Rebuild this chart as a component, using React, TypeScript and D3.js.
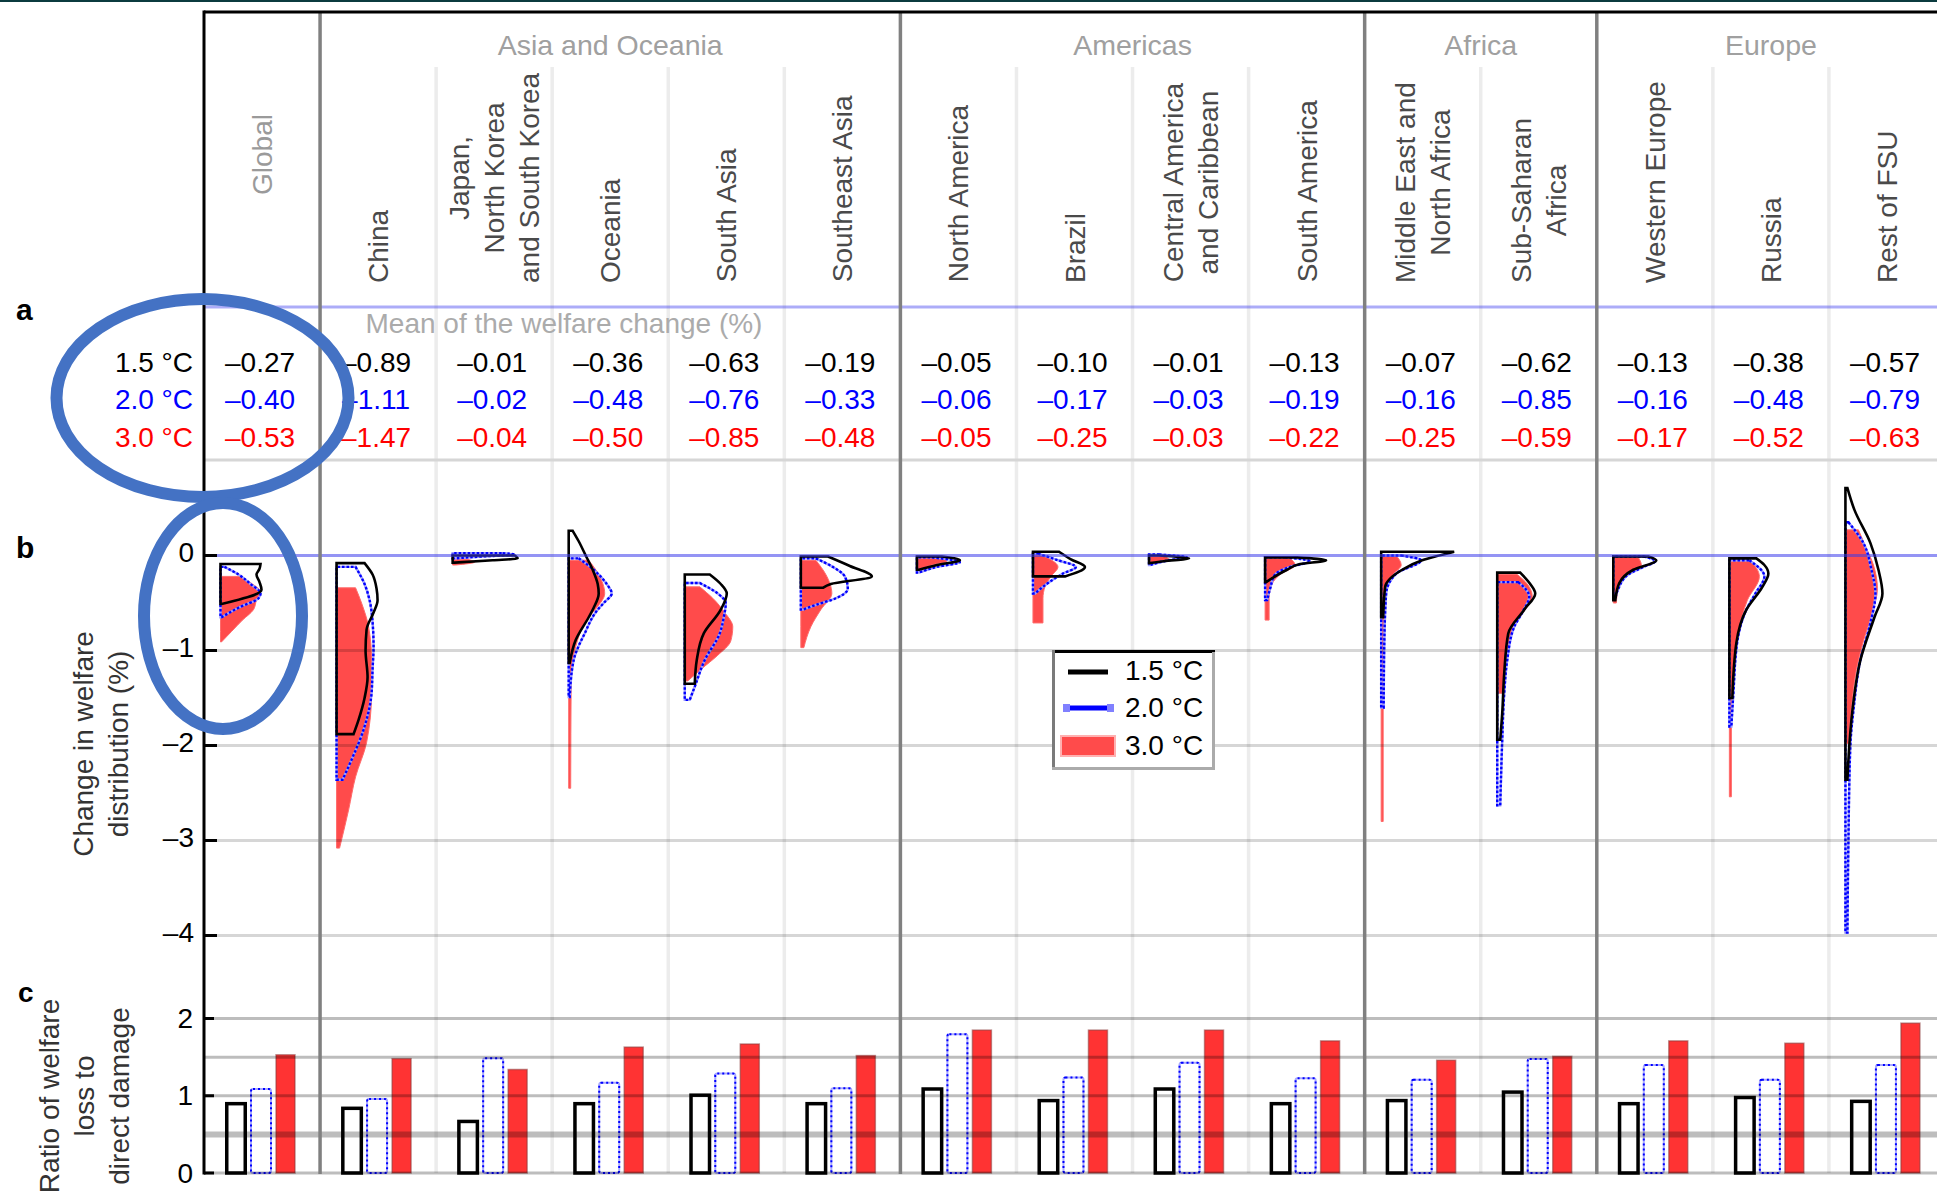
import React from "react";
import * as d3 from "d3";

const W = 1937;
const H = 1198;
const FONT = "'Liberation Sans', Arial, Helvetica, sans-serif";

// ---------- categories ----------
const regionLabels: string[][] = [
  ["Global"],
  ["China"],
  ["Japan,", "North Korea", "and South Korea"],
  ["Oceania"],
  ["South Asia"],
  ["Southeast Asia"],
  ["North America"],
  ["Brazil"],
  ["Central America", "and Caribbean"],
  ["South America"],
  ["Middle East and", "North Africa"],
  ["Sub-Saharan", "Africa"],
  ["Western Europe"],
  ["Russia"],
  ["Rest of FSU"],
];
const groupNames = ["Asia and Oceania", "Americas", "Africa", "Europe"];
const groupFirst = [1, 6, 10, 12];
const groupLast = [5, 9, 11, 14];
const scenarioLabels = ["1.5 °C", "2.0 °C", "3.0 °C"];
const scenarioColors = ["#000000", "#0000ff", "#ff0000"];

// ---------- panel a: mean welfare change (%) ----------
const meanWelfare15 = [-0.27, -0.89, -0.01, -0.36, -0.63, -0.19, -0.05, -0.1, -0.01, -0.13, -0.07, -0.62, -0.13, -0.38, -0.57];
const meanWelfare20 = [-0.4, -1.11, -0.02, -0.48, -0.76, -0.33, -0.06, -0.17, -0.03, -0.19, -0.16, -0.85, -0.16, -0.48, -0.79];
const meanWelfare30 = [-0.53, -1.47, -0.04, -0.5, -0.85, -0.48, -0.05, -0.25, -0.03, -0.22, -0.25, -0.59, -0.17, -0.52, -0.63];

// ---------- panel b: distributions [change %, density] ----------
type Pt = [number, number];
const dist15: Pt[][] = [
  [[-0.09, 4.0], [-0.14, 3.9], [-0.2, 3.6], [-0.28, 3.9], [-0.36, 4.1], [-0.51, 0.1]],
  [[-0.08, 2.8], [-0.2, 3.6], [-0.35, 4.0], [-0.47, 4.1], [-0.6, 3.7], [-0.78, 3.0], [-1.0, 2.9], [-1.28, 3.1], [-1.5, 2.8], [-1.73, 2.2], [-1.88, 1.7]],
  [[-0.0, 6.2], [-0.03, 6.5], [-0.05, 4.0], [-0.075, 0.2]],
  [[0.26, 0.4], [0.15, 1.0], [0.0, 1.7], [-0.15, 2.4], [-0.3, 2.9], [-0.4, 3.0], [-0.55, 2.5], [-0.65, 2.0], [-0.89, 0.7], [-1.13, 0.1]],
  [[-0.2, 2.5], [-0.3, 3.6], [-0.4, 4.2], [-0.57, 3.6], [-0.82, 1.9], [-1.1, 1.2], [-1.35, 1.0]],
  [[-0.01, 2.7], [-0.11, 4.9], [-0.22, 7.1], [-0.3, 3.0], [-0.34, 2.2]],
  [[-0.01, 2.5], [-0.05, 4.3], [-0.1, 2.0], [-0.15, 0.2]],
  [[0.04, 2.6], [-0.04, 3.8], [-0.12, 5.2], [-0.22, 3.2]],
  [[0.0, 1.0], [-0.03, 4.0], [-0.06, 1.5], [-0.08, 0.1]],
  [[-0.02, 3.2], [-0.05, 6.1], [-0.09, 3.5], [-0.15, 2.2], [-0.28, 0.1]],
  [[0.04, 7.3], [-0.05, 4.1], [-0.15, 2.1], [-0.33, 0.4], [-0.65, 0.2]],
  [[-0.18, 2.3], [-0.3, 3.3], [-0.4, 3.8], [-0.57, 2.7], [-0.82, 1.1], [-1.24, 0.7], [-1.66, 0.5], [-1.94, 0.3]],
  [[-0.01, 3.5], [-0.05, 4.3], [-0.15, 2.0], [-0.29, 0.6], [-0.47, 0.2]],
  [[-0.03, 2.7], [-0.1, 3.5], [-0.19, 3.9], [-0.33, 3.3], [-0.57, 1.7], [-0.92, 0.7], [-1.5, 0.3]],
  [[0.71, 0.2], [0.48, 0.9], [0.13, 2.5], [-0.15, 3.3], [-0.4, 3.7], [-0.65, 2.9], [-1.1, 1.5], [-1.63, 0.7], [-1.98, 0.4], [-2.36, 0.2]],
];
const dist20: Pt[][] = [
  [[-0.12, 0.4], [-0.2, 1.8], [-0.3, 3.0], [-0.4, 4.0], [-0.45, 3.8], [-0.55, 1.8], [-0.65, 0.1]],
  [[-0.12, 1.9], [-0.3, 2.8], [-0.47, 3.3], [-0.7, 3.6], [-0.96, 3.7], [-1.2, 3.6], [-1.45, 3.5], [-1.8, 2.8], [-2.15, 1.5], [-2.36, 0.6]],
  [[0.025, 5.0], [0.01, 6.2], [-0.01, 3.0], [-0.03, 0.2]],
  [[-0.03, 1.0], [-0.15, 2.5], [-0.3, 3.8], [-0.4, 4.3], [-0.5, 3.5], [-0.57, 2.9], [-0.82, 1.6], [-1.1, 0.5], [-1.49, 0.1]],
  [[-0.29, 1.5], [-0.4, 3.3], [-0.5, 4.1], [-0.65, 3.9], [-0.82, 3.5], [-1.1, 2.0], [-1.38, 1.0], [-1.52, 0.5]],
  [[-0.03, 1.5], [-0.12, 3.2], [-0.22, 4.4], [-0.35, 4.7], [-0.45, 3.5], [-0.52, 1.5], [-0.57, 0.2]],
  [[-0.02, 1.5], [-0.07, 4.3], [-0.12, 2.0], [-0.18, 0.2]],
  [[0.02, 0.5], [-0.05, 2.5], [-0.12, 4.3], [-0.19, 3.0], [-0.29, 1.5], [-0.4, 0.2]],
  [[0.01, 1.0], [-0.02, 3.8], [-0.05, 2.0], [-0.1, 0.1]],
  [[-0.02, 2.0], [-0.06, 4.5], [-0.12, 2.5], [-0.2, 1.0], [-0.35, 0.5], [-0.47, 0.2]],
  [[0.0, 2.0], [-0.05, 4.0], [-0.19, 1.5], [-0.4, 0.5], [-1.0, 0.3], [-1.6, 0.25]],
  [[-0.28, 2.1], [-0.43, 3.2], [-0.6, 2.5], [-0.75, 1.7], [-1.1, 1.0], [-1.45, 0.7], [-1.94, 0.5], [-2.63, 0.3]],
  [[-0.01, 3.0], [-0.06, 4.2], [-0.12, 3.0], [-0.2, 1.5], [-0.35, 0.5], [-0.45, 0.2]],
  [[-0.05, 2.0], [-0.22, 3.5], [-0.4, 2.6], [-0.57, 1.7], [-0.9, 0.8], [-1.45, 0.4], [-1.8, 0.2]],
  [[0.35, 0.3], [0.13, 1.8], [-0.15, 2.6], [-0.4, 3.0], [-0.75, 2.4], [-1.1, 1.5], [-1.63, 0.8], [-1.98, 0.5], [-3.0, 0.3], [-3.97, 0.2]],
];
const dist30: Pt[][] = [
  [[-0.22, 2.0], [-0.3, 3.2], [-0.38, 4.0], [-0.47, 3.6], [-0.57, 3.3], [-0.68, 2.2], [-0.8, 1.1], [-0.91, 0.1]],
  [[-0.34, 1.9], [-0.5, 2.5], [-0.75, 3.2], [-1.1, 3.5], [-1.45, 3.5], [-1.97, 3.0], [-2.33, 1.9], [-2.68, 1.2], [-3.08, 0.3]],
  [[-0.04, 1.5], [-0.07, 2.2], [-0.1, 0.3]],
  [[-0.05, 2.0], [-0.2, 3.0], [-0.4, 3.6], [-0.55, 2.8], [-0.65, 2.0], [-0.96, 0.7], [-1.3, 0.25], [-2.45, 0.2]],
  [[-0.33, 1.5], [-0.45, 2.8], [-0.6, 4.0], [-0.75, 4.8], [-0.9, 4.6], [-1.05, 3.3], [-1.2, 1.6], [-1.32, 0.3]],
  [[-0.05, 1.5], [-0.2, 2.5], [-0.4, 3.1], [-0.57, 2.0], [-0.75, 1.0], [-0.97, 0.3]],
  [[-0.02, 2.0], [-0.06, 3.0], [-0.1, 1.5], [-0.16, 0.2]],
  [[0.0, 1.0], [-0.12, 2.5], [-0.22, 1.8], [-0.33, 1.2], [-0.45, 1.0], [-0.71, 1.0]],
  [[-0.01, 1.5], [-0.04, 2.0], [-0.07, 0.5], [-0.1, 0.1]],
  [[-0.03, 2.5], [-0.1, 3.0], [-0.2, 1.5], [-0.3, 0.7], [-0.45, 0.4], [-0.68, 0.4]],
  [[0.0, 1.5], [-0.1, 2.0], [-0.2, 1.2], [-0.35, 0.5], [-1.0, 0.2], [-2.8, 0.2]],
  [[-0.2, 2.0], [-0.3, 3.0], [-0.43, 3.5], [-0.6, 2.6], [-0.75, 1.7], [-1.1, 1.0], [-1.45, 0.5]],
  [[-0.02, 2.5], [-0.1, 2.8], [-0.2, 1.5], [-0.35, 0.5], [-0.5, 0.3]],
  [[-0.06, 2.2], [-0.22, 3.0], [-0.47, 1.8], [-0.82, 0.9], [-1.28, 0.4], [-1.8, 0.2], [-2.54, 0.2]],
  [[0.27, 1.3], [0.1, 2.0], [-0.1, 2.8], [-0.35, 3.2], [-0.6, 2.7], [-0.9, 1.8], [-1.2, 1.1], [-1.6, 0.6], [-1.98, 0.3]],
];
const distTicks = [0, -1, -2, -3, -4];

// ---------- panel c: ratio of welfare loss to direct damage ----------
const ratio15 = [0.92, 0.86, 0.69, 0.92, 1.03, 0.92, 1.11, 0.96, 1.11, 0.92, 0.96, 1.07, 0.92, 1.0, 0.95];
const ratio20 = [1.1, 0.97, 1.5, 1.18, 1.3, 1.11, 1.81, 1.25, 1.44, 1.24, 1.22, 1.49, 1.41, 1.22, 1.41];
const ratio30 = [1.53, 1.48, 1.34, 1.63, 1.67, 1.52, 1.85, 1.85, 1.85, 1.71, 1.46, 1.51, 1.71, 1.68, 1.94];
const ratioTicks = [0, 1, 2];
const ratioGrid = [0, 0.5, 1, 1.5, 2];

// ---------- helpers ----------
let _ctx: CanvasRenderingContext2D | null = null;
function textWidth(s: string, size: number) {
  if (!_ctx) _ctx = document.createElement("canvas").getContext("2d");
  if (!_ctx) return s.length * size * 0.5;
  _ctx.font = `${size}px 'Liberation Sans', Arial, sans-serif`;
  return _ctx.measureText(s).width;
}
const fmt = (v: number) => v.toFixed(2).replace("-", "\u2013");
const tickFmt = (v: number) => (v < 0 ? "\u2013" + Math.abs(v) : String(v));

export default function App() {
  const idx = d3.range(regionLabels.length);
  const x = d3.scaleBand<number>().domain(idx).range([204, 1945]).padding(0);
  const colW = x.bandwidth();
  const xc = (i: number) => (x(i) as number) + colW / 2;

  const yB = d3.scaleLinear().domain([0, -4]).range([555.5, 935.5]);
  const yC = d3.scaleLinear().domain([0, 2]).range([1173, 1018.5]);
  const wScale = d3.scaleLinear().domain([0, 1]).range([0, 10]);
  const sub = d3.scaleBand<number>().domain([0, 1, 2]).range([21, 93]).paddingInner(0.12);

  const areaFor = (base: number) =>
    d3
      .area<Pt>()
      .y((d) => yB(d[0]))
      .x0(base)
      .x1((d) => base + wScale(d[1]))
      .curve(d3.curveMonotoneY);

  const FS = 28;
  const rightEdge = W;
  const bottomY = yC(0);

  const thickIdx = groupFirst;
  const lightIdx = idx.filter((i) => i > 0 && !thickIdx.includes(i));

  const means = [meanWelfare15, meanWelfare20, meanWelfare30];
  const ratios = [ratio15, ratio20, ratio30];
  const rowY = [362, 399.5, 437];

  return (
    <svg
      width={W}
      height={H}
      style={{ position: "absolute", left: 0, top: 0, background: "#fff" }}
      fontFamily={FONT}
    >
      <rect x={0} y={0} width={W} height={H} fill="#fff" />
      <rect x={0} y={0} width={W} height={2} fill="#0b3b3f" />

      {/* light column separators */}
      {lightIdx.map((i) => (
        <line key={"lc" + i} x1={x(i)} x2={x(i)} y1={67} y2={bottomY} stroke="#ececec" strokeWidth={3.5} />
      ))}

      {/* panel b distributions */}
      {idx.map((i) => {
        const base = (x(i) as number) + 16.5;
        const gen = areaFor(base);
        return (
          <g key={"dist" + i}>
            <path d={gen(dist30[i]) || ""} fill="#ff4b4b" stroke="#ff6b6b" strokeWidth={1} />
            <path d={gen(dist20[i]) || ""} fill="none" stroke="#9a9aff" strokeWidth={2.4} />
            <path d={gen(dist20[i]) || ""} fill="none" stroke="#0000ff" strokeWidth={2.4} strokeDasharray="2.5 2" />
            <path d={gen(dist15[i]) || ""} fill="none" stroke="#000" strokeWidth={2.6} strokeLinejoin="miter" />
          </g>
        );
      })}

      {/* panel b grid */}
      {distTicks.map((t) => (
        <line
          key={"gb" + t}
          x1={204}
          x2={rightEdge}
          y1={yB(t)}
          y2={yB(t)}
          stroke={t === 0 ? "rgba(60,60,235,0.55)" : "rgba(0,0,0,0.16)"}
          strokeWidth={3}
        />
      ))}

      {/* panel c bars */}
      {idx.map((i) => {
        const x0 = x(i) as number;
        const bw = sub.bandwidth();
        const b0 = x0 + (sub(0) as number);
        const b1 = x0 + (sub(1) as number);
        const b2 = x0 + (sub(2) as number);
        return (
          <g key={"bar" + i}>
            <rect x={b0 + 1.75} y={yC(ratios[0][i]) + 1.75} width={bw - 3.5} height={yC(0) - yC(ratios[0][i]) - 1.75} fill="#fff" stroke="#000" strokeWidth={3.5} />
            <rect x={b1 + 1} y={yC(ratios[1][i]) + 1} width={bw - 2} height={yC(0) - yC(ratios[1][i]) - 1} rx={2} fill="none" stroke="#a8a8ff" strokeWidth={2} />
            <rect x={b1 + 1} y={yC(ratios[1][i]) + 1} width={bw - 2} height={yC(0) - yC(ratios[1][i]) - 1} rx={2} fill="none" stroke="#0000ff" strokeWidth={2} strokeDasharray="2 3" />
            <rect x={b2 + 1} y={yC(ratios[2][i])} width={bw - 3} height={yC(0) - yC(ratios[2][i])} fill="#ff3333" stroke="rgba(140,60,60,0.55)" strokeWidth={1.5} />
          </g>
        );
      })}

      {/* panel c grid */}
      {ratioGrid.map((t) => (
        <line
          key={"gc" + t}
          x1={204}
          x2={rightEdge}
          y1={yC(t)}
          y2={yC(t)}
          stroke="rgba(0,0,0,0.26)"
          strokeWidth={t === 0.5 ? 6 : 3}
        />
      ))}

      {/* header separators */}
      <line x1={204} x2={rightEdge} y1={307} y2={307} stroke="rgba(70,70,240,0.45)" strokeWidth={3} />
      <line x1={204} x2={rightEdge} y1={460} y2={460} stroke="#d6d6d6" strokeWidth={3} />

      {/* thick group separators */}
      {thickIdx.map((i) => (
        <line key={"tc" + i} x1={x(i)} x2={x(i)} y1={12} y2={bottomY + 1} stroke="#808080" strokeWidth={3.5} />
      ))}

      {/* frame */}
      <line x1={204} x2={rightEdge} y1={12} y2={12} stroke="#000" strokeWidth={3} />
      <line x1={204} x2={204} y1={10.5} y2={bottomY + 1.5} stroke="#000" strokeWidth={3} />

      {/* axis ticks panel b */}
      {distTicks.map((t) => (
        <g key={"tb" + t}>
          <line x1={204} x2={217} y1={yB(t)} y2={yB(t)} stroke="#000" strokeWidth={3} />
          <text x={194} y={yB(t) - 3} textAnchor="end" dominantBaseline="central" fontSize={FS} fill="#000">
            {tickFmt(t)}
          </text>
        </g>
      ))}
      {/* axis ticks panel c */}
      {ratioTicks.map((t) => (
        <g key={"tcx" + t}>
          <line x1={204} x2={214} y1={yC(t)} y2={yC(t)} stroke="#000" strokeWidth={3} />
          <text x={193} y={yC(t)} textAnchor="end" dominantBaseline="central" fontSize={FS} fill="#000">
            {tickFmt(t)}
          </text>
        </g>
      ))}

      {/* group titles */}
      {groupNames.map((g, k) => {
        const cx = ((x(groupFirst[k]) as number) + (x(groupLast[k]) as number) + colW) / 2;
        return (
          <text key={"g" + k} x={cx} y={55} textAnchor="middle" fontSize={28.5} fill="#a0a0a0">
            {g}
          </text>
        );
      })}

      {/* column labels */}
      {regionLabels.map((lines, i) => {
        const n = lines.length;
        const maxLen = d3.max(lines, (s) => textWidth(s, FS)) || 0;
        const bottom = i === 0 ? 195 : 283;
        const cy = bottom - maxLen / 2;
        return (
          <g key={"lab" + i}>
            {lines.map((s, j) => {
              const lx = xc(i) + (j - (n - 1) / 2) * 35 + 10;
              return (
                <text
                  key={j}
                  transform={`translate(${lx},${cy}) rotate(-90)`}
                  textAnchor="middle"
                  fontSize={FS}
                  fill={i === 0 ? "#9a9a9a" : "#4a4a4a"}
                >
                  {s}
                </text>
              );
            })}
          </g>
        );
      })}

      {/* panel a */}
      <text x={564} y={333} textAnchor="middle" fontSize={FS} fill="#ababab">
        Mean of the welfare change (%)
      </text>
      {scenarioLabels.map((s, r) => (
        <text key={"rl" + r} x={193} y={rowY[r]} dominantBaseline="central" textAnchor="end" fontSize={FS} fill={scenarioColors[r]}>
          {s}
        </text>
      ))}
      {means.map((arr, r) =>
        arr.map((v, i) => (
          <text key={"m" + r + "-" + i} x={xc(i) - 2} y={rowY[r]} dominantBaseline="central" textAnchor="middle" fontSize={FS} fill={scenarioColors[r]}>
            {fmt(v)}
          </text>
        ))
      )}

      {/* panel letters */}
      <text x={16} y={320} fontSize={30} fontWeight="bold" fill="#000">a</text>
      <text x={16} y={558} fontSize={30} fontWeight="bold" fill="#000">b</text>
      <text x={18} y={1002} fontSize={28} fontWeight="bold" fill="#000">c</text>

      {/* axis titles */}
      {["Change in welfare", "distribution (%)"].map((s, j) => (
        <text key={"bt" + j} transform={`translate(${93 + j * 35},744) rotate(-90)`} textAnchor="middle" fontSize={FS} fill="#333">
          {s}
        </text>
      ))}
      {["Ratio of welfare", "loss to", "direct damage"].map((s, j) => (
        <text key={"ct" + j} transform={`translate(${59 + j * 35},1096) rotate(-90)`} textAnchor="middle" fontSize={FS} fill="#333">
          {s}
        </text>
      ))}

      {/* legend */}
      <g>
        <rect x={1052} y={650} width={163} height={120} fill="#fff" />
        <line x1={1052} x2={1215} y1={651.5} y2={651.5} stroke="#000" strokeWidth={3} />
        <line x1={1053.5} x2={1053.5} y1={650} y2={770} stroke="#7a7a7a" strokeWidth={3} />
        <line x1={1213.5} x2={1213.5} y1={652} y2={770} stroke="#ababab" strokeWidth={3} />
        <line x1={1052} x2={1215} y1={768.5} y2={768.5} stroke="#ababab" strokeWidth={3} />
        <line x1={1068} x2={1108} y1={672} y2={672} stroke="#000" strokeWidth={5} />
        <line x1={1066} x2={1111} y1={708} y2={708} stroke="#0000ff" strokeWidth={5} />
        <rect x={1063} y={704} width={7} height={8} fill="#8080ff" />
        <rect x={1107} y={704} width={7} height={8} fill="#8080ff" />
        <rect x={1061} y={736} width={54} height={20} fill="#ff4b4b" stroke="#ffb0b0" strokeWidth={2} />
        {scenarioLabels.map((s, r) => (
          <text key={"lg" + r} x={1125} y={[670, 707, 745][r]} dominantBaseline="central" fontSize={FS} fill="#000">
            {s}
          </text>
        ))}
      </g>

      {/* annotation ellipses */}
      <ellipse cx={202.5} cy={398} rx={146} ry={99} fill="none" stroke="#4472c4" strokeWidth={12} />
      <ellipse cx={223} cy={616} rx={79} ry={113} fill="none" stroke="#4472c4" strokeWidth={12} />
    </svg>
  );
}
